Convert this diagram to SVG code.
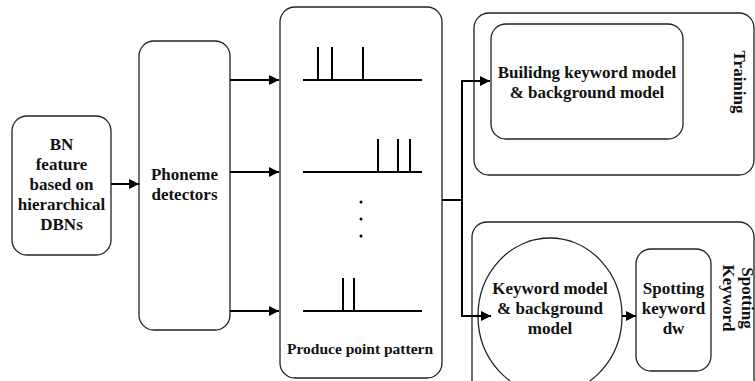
<svg xmlns="http://www.w3.org/2000/svg" width="755" height="381" viewBox="0 0 755 381">
<style>
.box{fill:#fff;stroke:#222;stroke-width:1.3}
.t{font-family:"Liberation Serif","Times New Roman",serif;font-weight:bold;font-size:17px;fill:#111;text-anchor:middle}
.c{fill:none;stroke:#000;stroke-width:2}
.sp{fill:none;stroke:#000;stroke-width:2}
</style>
<defs>
<marker id="ah" viewBox="0 0 10 10" refX="10" refY="5" markerWidth="5" markerHeight="5" orient="auto" markerUnits="strokeWidth">
<path d="M0,0 L10,5 L0,10 z" fill="#000"/>
</marker>
</defs>
<rect width="755" height="381" fill="#fff"/>
<g id="training-group">
<rect class="box" x="474" y="13" width="280" height="162" rx="15"/>
<text class="t" transform="translate(734,82) rotate(90)">Training</text>
</g>
<g id="spotting-group">
<rect class="box" x="472" y="222" width="282" height="175" rx="15"/>
<text class="t" transform="translate(742,298) rotate(90)"><tspan x="0" y="0">Spotting</tspan><tspan x="0" y="19">Keyword</tspan></text>
</g>
<g id="bn">
<rect class="box" x="12" y="116" width="99" height="139" rx="15"/>
<text class="t"><tspan x="61.5" y="150">BN</tspan><tspan x="61.5" y="170">feature</tspan><tspan x="61.5" y="190">based on</tspan><tspan x="61.5" y="210">hierarchical</tspan><tspan x="61.5" y="230">DBNs</tspan></text>
</g>
<g id="phoneme">
<rect class="box" x="139" y="41" width="91" height="289" rx="15"/>
<text class="t"><tspan x="184.5" y="180">Phoneme</tspan><tspan x="184.5" y="200">detectors</tspan></text>
</g>
<g id="produce">
<rect class="box" x="280" y="7" width="162" height="371" rx="15"/>
<path class="sp" d="M303,80 H422 M318,80 V47 M332,80 V47 M363,80 V47"/>
<path class="sp" d="M303,172 H422 M378,172 V139 M398,172 V139 M410,172 V139"/>
<path class="sp" d="M303,311 H422 M343,311 V278 M354,311 V278"/>
<circle cx="361" cy="202" r="1.5" fill="#000"/>
<circle cx="361" cy="219" r="1.5" fill="#000"/>
<circle cx="361" cy="236" r="1.5" fill="#000"/>
<text class="t" style="font-size:15.5px" x="360" y="354">Produce point pattern</text>
</g>
<g id="building">
<rect class="box" x="491" y="24" width="192" height="115" rx="15"/>
<text class="t"><tspan x="587" y="78">Builidng keyword model</tspan><tspan x="587" y="98">&amp; background model</tspan></text>
</g>
<g id="kwmodel">
<ellipse class="box" cx="550" cy="316" rx="72" ry="78"/>
<text class="t"><tspan x="550" y="294">Keyword model</tspan><tspan x="550" y="314">&amp; background</tspan><tspan x="550" y="334">model</tspan></text>
</g>
<g id="spotting">
<rect class="box" x="636" y="249" width="75" height="122" rx="15"/>
<text class="t"><tspan x="673.5" y="294">Spotting</tspan><tspan x="673.5" y="314">keyword</tspan><tspan x="673.5" y="334">dw</tspan></text>
</g>
<g id="connectors">
<path class="c" d="M111,184 H139" marker-end="url(#ah)"/>
<path class="c" d="M230,80 H279" marker-end="url(#ah)"/>
<path class="c" d="M230,172 H279" marker-end="url(#ah)"/>
<path class="c" d="M230,311 H279" marker-end="url(#ah)"/>
<path class="c" d="M442,200 H462"/>
<path class="c" d="M490,81 H462 V316 H491" marker-end="url(#ah)"/>
<path class="c" d="M462,81 H490" marker-end="url(#ah)"/>
<path class="c" d="M622,316 H636" marker-end="url(#ah)"/>
</g>
</svg>
